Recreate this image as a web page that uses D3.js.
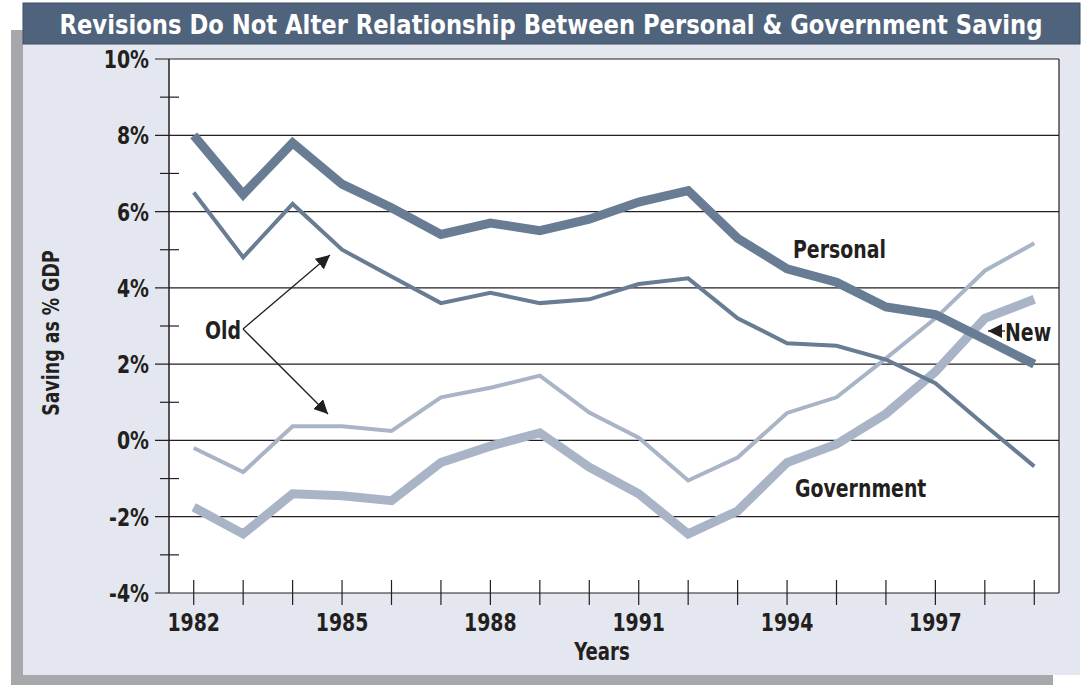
<!DOCTYPE html>
<html>
<head>
<meta charset="utf-8">
<script src="https://cdn.jsdelivr.net/npm/d3@7"></script>
<style>
  body { margin: 0; background: #fff; }
  svg text { font-family: "Liberation Sans Narrow", "DejaVu Sans Condensed", "Roboto Condensed", sans-serif; font-weight: bold; fill: #231f20; }
</style>
</head>
<body>
<svg width="1083" height="685"></svg>
<script>
// data
const years = d3.range(1982, 2000);
const personalNew = [8.0, 6.45, 7.8, 6.72, 6.1, 5.4, 5.7, 5.5, 5.8, 6.25, 6.55, 5.3, 4.5, 4.15, 3.5, 3.3, 2.65, 2.0];
const personalOld = [6.5, 4.8, 6.2, 5.0, 4.3, 3.6, 3.87, 3.6, 3.7, 4.1, 4.25, 3.2, 2.55, 2.48, 2.12, 1.5, 0.4, -0.68];
const govNew = [-1.75, -2.45, -1.4, -1.45, -1.58, -0.58, -0.15, 0.2, -0.7, -1.4, -2.45, -1.85, -0.58, -0.1, 0.7, 1.8, 3.2, 3.7];
const govOld = [-0.2, -0.83, 0.37, 0.37, 0.25, 1.13, 1.38, 1.7, 0.73, 0.07, -1.05, -0.45, 0.72, 1.13, 2.15, 3.2, 4.45, 5.17];
const yTicks = [-4, -2, 0, 2, 4, 6, 8, 10];
const yMinor = [-3, -1, 1, 3, 5, 7, 9];
const xLabels = [1982, 1985, 1988, 1991, 1994, 1997];

const svg = d3.select("svg");
const darkCol = "#687c94";
const lightCol = "#a9b5c6";
const ink = "#231f20";

// frame: shadow, panel, title bar
svg.append("rect").attr("x", 11).attr("y", 30).attr("width", 1042).attr("height", 655).attr("fill", "#a6a8ab");
svg.append("rect").attr("x", 23).attr("y", 20).attr("width", 1057).attr("height", 655).attr("fill", "#e4e7ef");
svg.append("rect").attr("x", 23).attr("y", 3).attr("width", 1057).attr("height", 41)
  .attr("fill", "#4f647c").attr("stroke", "#3e4f63").attr("stroke-width", 1);
svg.append("text").attr("class", "title").attr("x", 551).attr("y", 34).attr("text-anchor", "middle")
  .style("font-size", "26px").style("fill", "#fff")
  .text("Revisions Do Not Alter Relationship Between Personal & Government Saving");

const x = d3.scaleLinear().domain([1981.5, 1999.5]).range([169, 1059]);
const y = d3.scaleLinear().domain([-4, 10]).range([593, 59]);

// plot background
svg.append("rect").attr("x", x(1981.5)).attr("y", y(10))
  .attr("width", x(1999.5) - x(1981.5)).attr("height", y(-4) - y(10)).attr("fill", "#fff");

// gridlines
svg.append("g").selectAll("line").data(yTicks).join("line")
  .attr("x1", 155).attr("x2", x(1999.5))
  .attr("y1", d => y(d)).attr("y2", d => y(d))
  .attr("stroke", ink).attr("stroke-width", 1.2);

// minor ticks
svg.append("g").selectAll("line").data(yMinor).join("line")
  .attr("x1", 160).attr("x2", 179)
  .attr("y1", d => y(d)).attr("y2", d => y(d))
  .attr("stroke", ink).attr("stroke-width", 1.2);

// right border + left axis
svg.append("line").attr("x1", x(1999.5)).attr("x2", x(1999.5)).attr("y1", y(10)).attr("y2", y(-4))
  .attr("stroke", ink).attr("stroke-width", 1.2);
svg.append("line").attr("x1", x(1981.5)).attr("x2", x(1981.5)).attr("y1", y(10)).attr("y2", y(-4))
  .attr("stroke", ink).attr("stroke-width", 1.5);

// year ticks
svg.append("g").selectAll("line").data(years).join("line")
  .attr("x1", d => x(d)).attr("x2", d => x(d))
  .attr("y1", y(-4) - 13).attr("y2", y(-4) + 12)
  .attr("stroke", ink).attr("stroke-width", 1.2);

// tick labels
svg.append("g").selectAll("text").data(yTicks).join("text")
  .attr("x", 149).attr("y", d => y(d) + 9).attr("text-anchor", "end")
  .style("font-size", "25px").text(d => d + "%");
svg.append("g").selectAll("text").data(xLabels).join("text")
  .attr("x", d => x(d)).attr("y", 631).attr("text-anchor", "middle")
  .style("font-size", "25px").text(d => d);

svg.append("text").attr("x", 602).attr("y", 660).attr("text-anchor", "middle")
  .style("font-size", "24px").text("Years");
svg.append("text").attr("transform", "translate(59,333) rotate(-90)").attr("text-anchor", "middle")
  .style("font-size", "23px").text("Saving as % GDP");

// lines
const line = d3.line().x((d, i) => x(years[i])).y(d => y(d));
const series = [
  { values: govOld, color: lightCol, width: 4 },
  { values: govNew, color: lightCol, width: 9 },
  { values: personalOld, color: darkCol, width: 4 },
  { values: personalNew, color: darkCol, width: 9 }
];
svg.append("g").selectAll("path").data(series).join("path")
  .attr("d", d => line(d.values))
  .attr("fill", "none").attr("stroke", d => d.color)
  .attr("stroke-width", d => d.width).attr("stroke-linejoin", "miter");

// annotations
svg.append("defs").append("marker").attr("id", "arr")
  .attr("viewBox", "0 0 10 10").attr("refX", 10).attr("refY", 5)
  .attr("markerWidth", 14).attr("markerHeight", 14).attr("markerUnits", "userSpaceOnUse")
  .attr("orient", "auto")
  .append("path").attr("d", "M0,0L10,5L0,10Z").attr("fill", ink);

svg.append("text").attr("x", 793).attr("y", 258).style("font-size", "25px").text("Personal");
svg.append("text").attr("x", 795).attr("y", 497).style("font-size", "25px").text("Government");
svg.append("text").attr("x", 205).attr("y", 339).style("font-size", "25px").text("Old");
svg.append("text").attr("x", 1005).attr("y", 341).style("font-size", "25px").text("New");

const oldFrom = [243, 329];
[[330, 255], [328, 414]].forEach(t => {
  svg.append("line").attr("x1", oldFrom[0]).attr("y1", oldFrom[1]).attr("x2", t[0]).attr("y2", t[1])
    .attr("stroke", ink).attr("stroke-width", 1.3).attr("marker-end", "url(#arr)");
});
svg.append("line").attr("x1", 1005).attr("y1", 331).attr("x2", 988).attr("y2", 331)
  .attr("stroke", ink).attr("stroke-width", 1.3).attr("marker-end", "url(#arr)");

// squeeze text to the narrow look of the original type
svg.selectAll("text").each(function() {
  const t = d3.select(this);
  const w = this.getComputedTextLength();
  const target = t.classed("title") ? 983 : w * 0.84;
  t.attr("textLength", target).attr("lengthAdjust", "spacingAndGlyphs");
});
</script>
</body>
</html>
